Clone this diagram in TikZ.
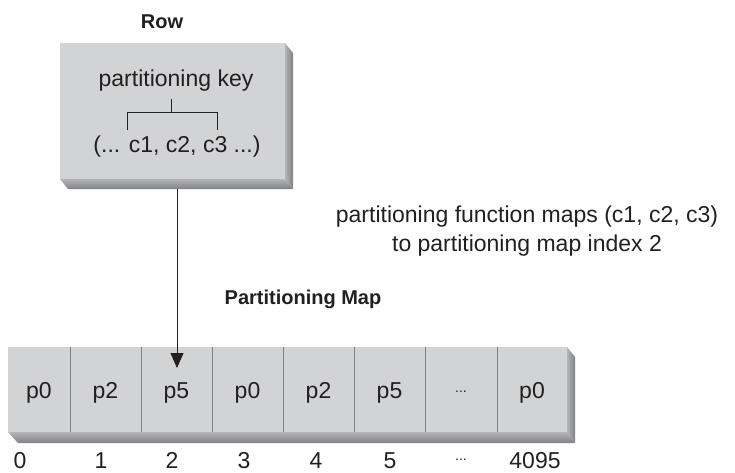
\documentclass[tikz,border=0pt]{standalone}
\usepackage{fontspec}
\setmainfont{Liberation Sans}
\usetikzlibrary{arrows.meta}
\definecolor{face}{RGB}{209,211,212}
\definecolor{bevA}{RGB}{178,180,183}
\definecolor{bevB}{RGB}{128,130,133}
\definecolor{ink}{RGB}{35,31,32}
\definecolor{divider}{RGB}{128,130,133}
\begin{document}
\begin{tikzpicture}[x=1pt,y=-1pt,
  body/.style={font=\fontsize{23}{27}\selectfont, text=ink, inner sep=0pt, anchor=base},
  title/.style={font=\fontsize{20}{24}\selectfont\bfseries, text=ink, inner sep=0pt, anchor=base},
  dots/.style={font=\fontsize{14}{16}\selectfont, text=ink, inner sep=0pt, anchor=base},
  brk/.style={draw=ink, line width=0.9pt},
  divline/.style={draw=divider, line width=1pt},
  arr/.style={draw=ink, line width=1pt, -{Triangle[length=15pt,width=13pt]}}]
\useasboundingbox (0,0) rectangle (735,473);

% ---- Row box
\fill[face] (60,43) rectangle (285,179);
\shade[left color=bevA,right color=bevB] (285,43) -- (293,53) -- (293,189) -- (285,179) -- cycle;
\shade[top color=bevA,bottom color=bevB] (60,179) -- (285,179) -- (293,189) -- (68,189) -- cycle;
\coordinate (rowbot) at (177,189);

\node[title] (rowtitle) at (162,29) {Row};
\node[body] (pkey) at (176,87) {partitioning key};
\node[body] (tuple) at (177,153) {(... c1, c2, c3 ...)};
\draw[brk] (127,130) -- (127,112) -- (217,112) -- (217,130);
\draw[brk] (171,112) -- (171,99);

% ---- right text
\node[body] (fn1) at (527,222) {partitioning function maps (c1, c2, c3)};
\node[body] (fn2) at (527,251) {to partitioning map index 2};
\node[title] (maptitle) at (303,304) {Partitioning Map};

% ---- Map
\fill[face] (8,347) rectangle (567,432);
\shade[left color=bevA,right color=bevB] (567,347) -- (575,357) -- (575,443) -- (567,432) -- cycle;
\shade[top color=bevA,bottom color=bevB] (8,432) -- (567,432) -- (575,443) -- (18,443) -- cycle;
\foreach \x in {70,141,212,283,354,425,497}{
  \draw[divline] (\x,347) -- (\x,432);
}
\node[body] (c0) at (39,398) {p0};
\node[body] (c1) at (105.5,398) {p2};
\node[body] (c2) at (176.5,398) {p5};
\node[body] (c3) at (247.5,398) {p0};
\node[body] (c4) at (318.5,398) {p2};
\node[body] (c5) at (389.5,398) {p5};
\node[dots] (c6) at (461,392) {...};
\node[body] (c7) at (532,398) {p0};

\node[body] (i0) at (20,468) {0};
\node[body] (i1) at (101,468) {1};
\node[body] (i2) at (172,468) {2};
\node[body] (i3) at (244,468) {3};
\node[body] (i4) at (316,468) {4};
\node[body] (i5) at (390,468) {5};
\node[dots] (i6) at (461,460) {...};
\node[body] (i7) at (535,468) {4095};

\coordinate (arrend) at (177,368);
\draw[arr] (rowbot) -- (arrend);
\end{tikzpicture}
\end{document}
